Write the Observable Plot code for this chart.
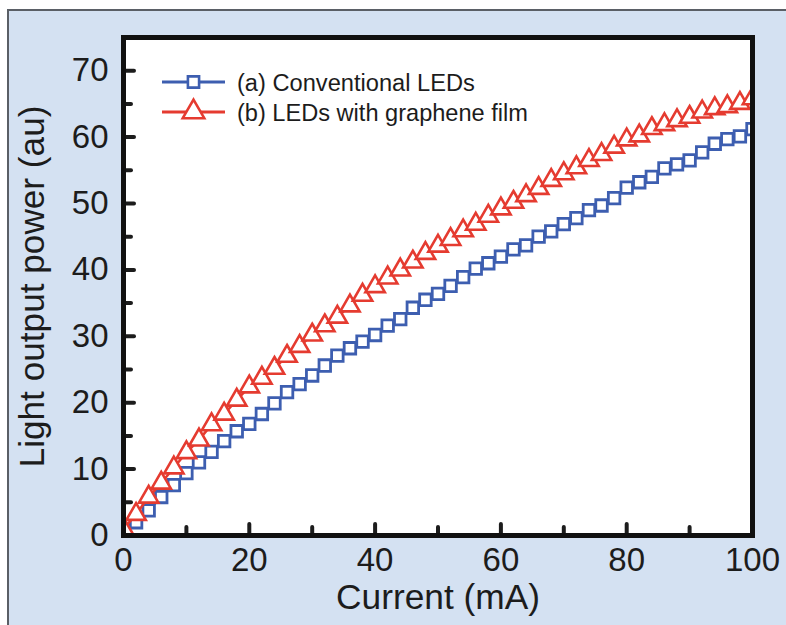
<!DOCTYPE html>
<html>
<head>
<meta charset="utf-8">
<script src="https://cdn.jsdelivr.net/npm/d3@7"></script>
<script src="https://cdn.jsdelivr.net/npm/@observablehq/plot@0.6"></script>
<style>
html, body { margin: 0; padding: 0; background: #ffffff; }
#wrap { position: relative; width: 786px; height: 625px; overflow: hidden; }
#bg { position: absolute; left: 7px; top: 9px; right: 0; bottom: 0; background: #d4e1f2;
      border-left: 2px solid #5a5f66; border-top: 2px solid #5a5f66; }
#chart { position: absolute; left: 0; top: 0; }
</style>
</head>
<body>
<div id="wrap"><div id="bg"></div><div id="chart"></div></div>
<script>
// ---- data ----
const current = [0, 2, 4, 6, 8, 10, 12, 14, 16, 18, 20, 22, 24, 26, 28, 30, 32, 34, 36, 38, 40,
  42, 44, 46, 48, 50, 52, 54, 56, 58, 60, 62, 64, 66, 68, 70, 72, 74, 76, 78, 80,
  82, 84, 86, 88, 90, 92, 94, 96, 98, 100];
const conventional = [0.5, 2.0, 3.8, 5.8, 7.6, 9.4, 11.0, 12.6, 14.2, 15.7, 16.8,
  18.3, 19.9, 21.6, 22.8, 24.1, 25.6, 27.1, 28.2, 29.2, 30.2,
  31.6, 32.6, 34.3, 35.5, 36.4, 37.6, 38.9, 40.2, 41.0, 42.0,
  43.1, 43.7, 45.0, 45.8, 46.9, 47.8, 49.0, 49.7, 50.8, 52.4,
  53.2, 54.0, 55.3, 55.9, 56.5, 57.7, 59.0, 59.7, 60.1, 61.2];
const graphene = [1.0, 3.2, 5.8, 7.9, 10.2, 12.5, 14.4, 16.7, 18.3, 20.4, 22.4,
  23.7, 25.2, 27.0, 28.5, 30.2, 31.6, 32.9, 34.6, 36.2, 37.5,
  38.8, 40.0, 41.2, 42.5, 43.6, 44.6, 45.9, 46.9, 48.1, 49.2,
  50.2, 51.2, 52.3, 53.5, 54.5, 55.4, 56.5, 57.4, 58.5, 59.6,
  60.2, 61.3, 61.9, 62.5, 63.0, 63.8, 64.3, 64.6, 65.1, 65.8];
const seriesLabels = ["(a) Conventional LEDs", "(b) LEDs with graphene film"];
const xMajor = [0, 20, 40, 60, 80, 100];
const xMinor = [10, 30, 50, 70, 90];
const yMajor = [0, 10, 20, 30, 40, 50, 60, 70];
const yMinor = [5, 15, 25, 35, 45, 55, 65];
const xTitle = "Current (mA)";
const yTitle = "Light output power (au)";

// ---- style ----
const blue = "#3d5eb0", red = "#e53b30", ink = "#1c1c1c";
const W = 786, H = 625, mL = 123, mR = 34, mT = 37, mB = 90;
const fw = W - mL - mR, fh = H - mT - mB;
const font = "'Liberation Sans', Arial, Helvetica, sans-serif";

const rowsA = current.map((c, i) => ({current: c, power: conventional[i]}));
const rowsB = current.map((c, i) => ({current: c, power: graphene[i]}));

const plot = Plot.plot({
  width: W, height: H,
  marginLeft: mL, marginRight: mR, marginTop: mT, marginBottom: mB,
  style: {background: "transparent", fontFamily: font, color: ink},
  x: {domain: [0, 100]},
  y: {domain: [0, 75]},
  marks: [
    Plot.frame({fill: "white", stroke: "none"}),
    Plot.line(rowsA, {x: "current", y: "power", stroke: blue, strokeWidth: 2.5, clip: true}),
    Plot.dot(rowsA, {x: "current", y: "power", symbol: "square", r: 6.5, fill: "white", stroke: blue, strokeWidth: 2.8, clip: true}),
    Plot.line(rowsB, {x: "current", y: "power", stroke: red, strokeWidth: 2.5, clip: true}),
    Plot.dot(rowsB, {x: "current", y: "power", symbol: "triangle", r: 7.2, fill: "white", stroke: red, strokeWidth: 2.6, clip: true}),
    Plot.ruleX(xMinor.filter(d => d > 0 && d < 100), {x: d => d, insetTop: fh - 8, stroke: ink, strokeWidth: 4, strokeLinecap: "round"}),
    Plot.ruleX(xMajor.filter(d => d > 0 && d < 100), {x: d => d, insetTop: fh - 11, stroke: ink, strokeWidth: 4, strokeLinecap: "round"}),
    Plot.ruleY(yMinor, {y: d => d, insetRight: fw - 8, stroke: ink, strokeWidth: 4, strokeLinecap: "round"}),
    Plot.ruleY(yMajor.filter(d => d > 0), {y: d => d, insetRight: fw - 11, stroke: ink, strokeWidth: 4, strokeLinecap: "round"}),
    Plot.frame({stroke: "#111", strokeWidth: 5}),
    Plot.axisX({ticks: xMajor, tickSize: 0, tickPadding: 12, fontSize: 33, label: null, fill: ink}),
    Plot.axisY({ticks: yMajor, tickSize: 0, tickPadding: 15, fontSize: 33, label: null, fill: ink}),
    Plot.text([xTitle], {text: d => d, frameAnchor: "bottom", dy: 73, fontSize: 35, fill: ink}),
    Plot.text([yTitle], {text: d => d, frameAnchor: "left", dx: -91, rotate: -90, textAnchor: "middle", fontSize: 35, fill: ink})
  ]
});

// ---- legend ----
const svg = d3.select(plot);
const lg = svg.append("g").attr("text-anchor", "start");
const legendItems = [
  {label: seriesLabels[0], color: blue, symbol: d3.symbolSquare, size: Math.PI * 6.3 * 6.3},
  {label: seriesLabels[1], color: red, symbol: d3.symbolTriangle, size: Math.PI * 8 * 8}
];
legendItems.forEach((it, i) => {
  const y = 82 + i * 30;
  lg.append("line").attr("x1", 162).attr("x2", 225).attr("y1", y).attr("y2", y)
    .attr("stroke", it.color).attr("stroke-width", 3);
  lg.append("path").attr("d", d3.symbol(it.symbol, it.size)())
    .attr("transform", `translate(193.5,${y})`)
    .attr("fill", "white").attr("stroke", it.color).attr("stroke-width", 2.6);
  lg.append("text").attr("x", 237).attr("y", y + 9).attr("font-size", 23.5)
    .attr("text-anchor", "start")
    .attr("font-family", font).attr("fill", ink).text(it.label);
});

document.getElementById("chart").appendChild(plot);

// fit title/legend text widths to the lengths measured in the reference
const targets = new Map([[xTitle, 204], [yTitle, 362], [seriesLabels[0], 238], [seriesLabels[1], 291]]);
svg.selectAll("text").each(function() {
  const t = this.textContent;
  if (!targets.has(t)) return;
  const len = this.getComputedTextLength();
  const fs = parseFloat(getComputedStyle(this).fontSize);
  if (len > 0 && fs > 0) {
    const k = Math.max(0.85, Math.min(1.15, targets.get(t) / len));
    this.style.fontSize = (fs * k) + "px";
  }
});
</script>
</body>
</html>
